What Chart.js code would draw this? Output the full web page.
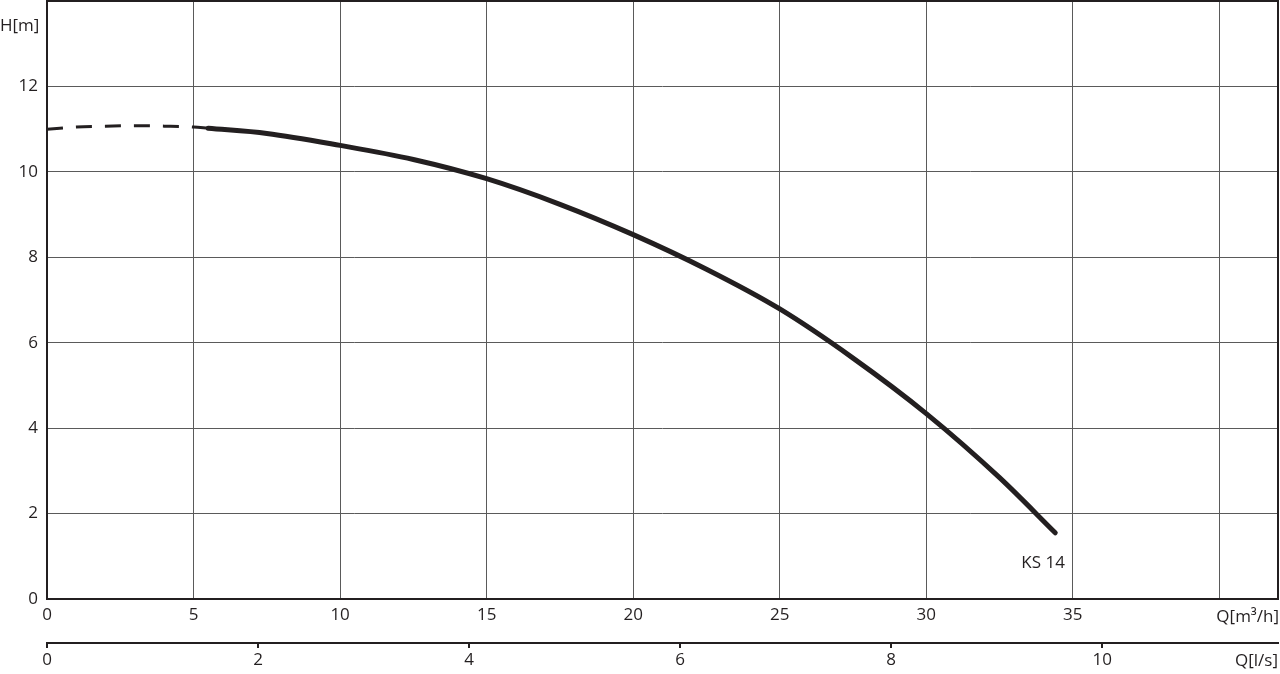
<!DOCTYPE html>
<html>
<head>
<meta charset="utf-8">
<script src="https://cdn.jsdelivr.net/npm/chart.js@4.4.1/dist/chart.umd.min.js"></script>
<style>
  html, body { margin: 0; padding: 0; background: #fff; }
  #wrap { width: 1280px; height: 674px; position: relative; }
</style>
</head>
<body>
<div id="wrap"><canvas id="c" width="1280" height="674"></canvas></div>
<script>
// ---- data ----
const flowDashed = [0, 1, 2, 3, 4, 5, 5.5];
const headDashed = [11.0, 11.05, 11.07, 11.08, 11.07, 11.05, 11.02];
const flowSolid = [5.5, 7.5, 10, 12.5, 15, 17.5, 20, 22.5, 25, 27.5, 30, 32.5, 34.4];
const headSolid = [11.02, 10.9, 10.62, 10.29, 9.84, 9.24, 8.53, 7.72, 6.79, 5.64, 4.34, 2.84, 1.55];
const flowTicks = [0, 5, 10, 15, 20, 25, 30, 35, 40];
const litreTicks = [0, 2, 4, 6, 8, 10];
const headTicks = [0, 2, 4, 6, 8, 10, 12, 14];
const curveName = 'KS 14';
const flowMax = 42;
const headMax = 14;

const FONT = '"Open Sans", "DejaVu Sans", sans-serif';
const FSIZE = 17;
const INK = '#231f20';
const GRID = '#5a5a5a';

const toPts = (xs, ys) => xs.map((x, i) => ({ x: x, y: ys[i] }));

const overlay = {
  id: 'overlay',
  afterDraw(chart) {
    const ctx = chart.ctx;
    const a = chart.chartArea;
    const xs = chart.scales.x, ys = chart.scales.y;
    ctx.save();
    ctx.strokeStyle = INK;
    ctx.lineWidth = 2;
    ctx.strokeRect(a.left, a.top, a.right - a.left, a.bottom - a.top);
    ctx.fillStyle = INK;
    ctx.font = FSIZE + 'px ' + FONT;
    ctx.textBaseline = 'middle';
    ctx.textAlign = 'left';
    ctx.fillText('H[m]', 0, ys.getPixelForValue(13.4));
    ctx.textAlign = 'right';
    ctx.fillText('Q[m\u00b3/h]', 1279, 617);
    ctx.fillText('Q[l/s]', 1278, 661);
    ctx.fillText(curveName, xs.getPixelForValue(34.73), ys.getPixelForValue(0.84));
    ctx.restore();
  }
};

const noPad = s => { s.paddingTop = 0; s.paddingBottom = 0; s.paddingLeft = 0; s.paddingRight = 0; };

new Chart(document.getElementById('c'), {
  type: 'line',
  data: {
    datasets: [
      {
        data: toPts(flowDashed, headDashed),
        borderColor: INK,
        borderWidth: 3,
        borderDash: [16, 13],
        pointRadius: 0,
        cubicInterpolationMode: 'monotone',
        fill: false
      },
      {
        data: toPts(flowSolid, headSolid),
        borderColor: INK,
        borderWidth: 5,
        borderCapStyle: 'round',
        pointRadius: 0,
        cubicInterpolationMode: 'monotone',
        fill: false
      }
    ]
  },
  options: {
    responsive: false,
    animation: false,
    events: [],
    layout: { padding: { top: 1, right: 2, left: 0, bottom: 0 } },
    plugins: { legend: { display: false }, tooltip: { enabled: false } },
    scales: {
      x: {
        type: 'linear',
        position: 'bottom',
        min: 0, max: flowMax,
        afterBuildTicks: s => { s.ticks = flowTicks.map(v => ({ value: v })); },
        afterFit: s => { s.height = 44; noPad(s); },
        ticks: {
          color: INK, font: { size: FSIZE, family: FONT }, padding: 6, maxRotation: 0,
          callback: v => (v === 40 ? '' : String(v))
        },
        grid: { color: GRID, lineWidth: 1, tickLength: 0, drawTicks: false },
        border: { display: false }
      },
      x2: {
        type: 'linear',
        position: 'bottom',
        min: 0, max: flowMax / 3.6,
        afterBuildTicks: s => { s.ticks = litreTicks.map(v => ({ value: v })); },
        afterFit: s => { s.height = 31; noPad(s); },
        ticks: { color: INK, font: { size: FSIZE, family: FONT }, padding: 2, maxRotation: 0 },
        grid: { drawOnChartArea: false, color: INK, lineWidth: 2, tickLength: 5 },
        border: { display: true, color: INK, width: 2 }
      },
      y: {
        type: 'linear',
        min: 0, max: headMax,
        afterBuildTicks: s => { s.ticks = headTicks.map(v => ({ value: v })); },
        afterFit: s => { s.width = 47; noPad(s); },
        ticks: {
          color: INK, font: { size: FSIZE, family: FONT }, padding: 9,
          callback: v => (v === 14 ? '' : String(v))
        },
        grid: { color: GRID, lineWidth: 1, drawTicks: false, tickLength: 0 },
        border: { display: false }
      }
    }
  },
  plugins: [overlay]
});
</script>
</body>
</html>
